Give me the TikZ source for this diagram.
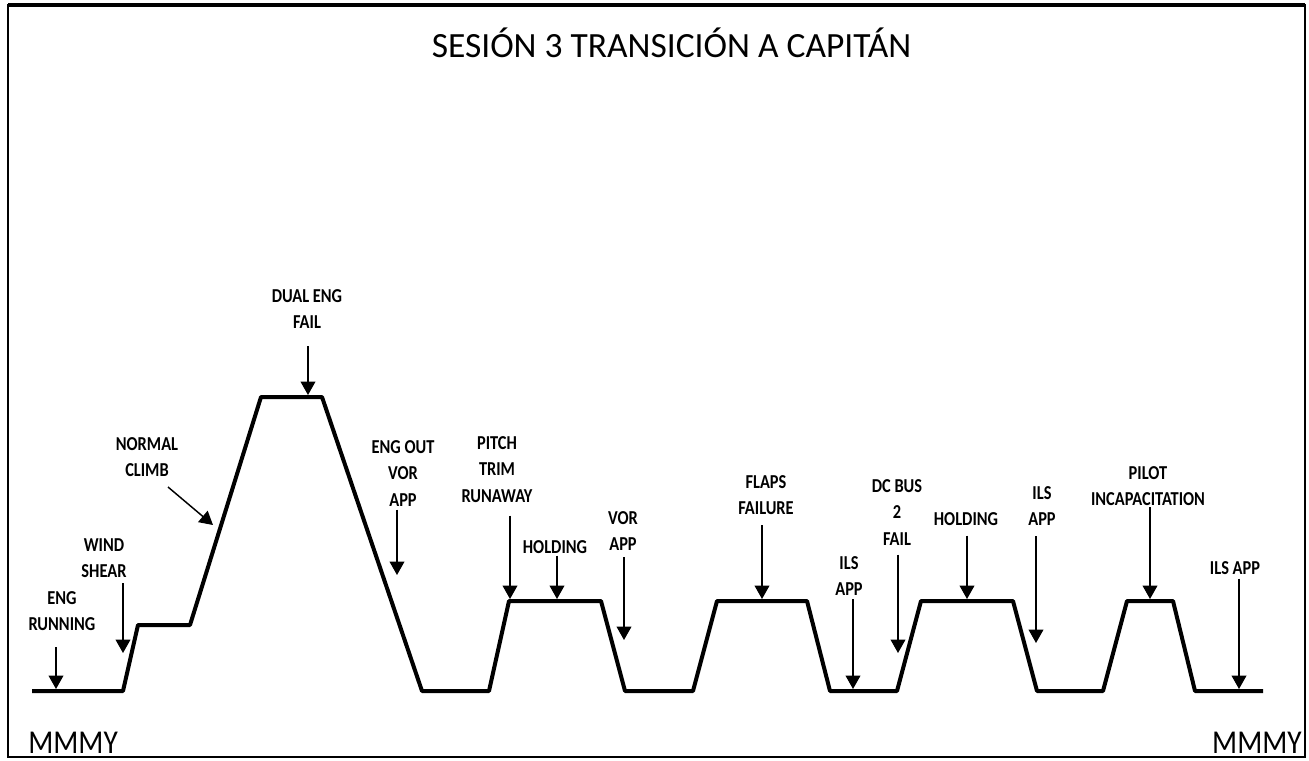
\documentclass[tikz,border=0pt]{standalone}
\usepackage{fontspec}
\setmainfont{Carlito}
\newfontfamily\lblfont[FakeStretch=0.83]{Carlito}
\newfontfamily\stnfont[FakeStretch=0.88]{Carlito}
\usetikzlibrary{arrows.meta}

\begin{document}
\begin{tikzpicture}[
  x=0.75pt,y=-0.75pt,
  every node/.style={inner sep=0pt},
  frame/.style={draw=black,line width=2pt},
  profile/.style={draw=black,line width=3pt,line join=round},
  event/.style={font=\lblfont\bfseries\fontsize{14.8}{19.9}\selectfont,align=center,anchor=north},
  station/.style={font=\stnfont\fontsize{25}{30}\selectfont},
  arrow/.style={-{Triangle[length=10pt,width=11pt]},line width=1.1pt,draw=black}
]
\useasboundingbox (0,0) rectangle (1309,760);
% frame
\draw[frame] (8,5) rectangle (1305,757);
\draw[line width=3.4pt] (8,5) -- (1305,5);

\node[font=\fontsize{26.6}{32}\selectfont,anchor=base] (title) at (671.5,57) {SESIÓN 3 TRANSICIÓN A CAPITÁN};
\node[station,anchor=base west] (mmmyl) at (28,753.5) {MMMY};
\node[station,anchor=base east] (mmmyr) at (1302,753.5) {MMMY};

% flight profile
\draw[profile] (32,691) -- (123,691) -- (138,625) -- (190,625) -- (261,397) -- (322,397)
  -- (422,691) -- (489,691) -- (509,601) -- (601,601) -- (625,691) -- (693,691)
  -- (717,601) -- (807,601) -- (830,691) -- (897,691) -- (921,601) -- (1013,601)
  -- (1037,691) -- (1103,691) -- (1127,601) -- (1173,601) -- (1195,691) -- (1263,691);

% event labels
\node[event] (running) at (62,591) {ENG\\RUNNING};
\node[event] (shear) at (104,538) {WIND\\SHEAR};
\node[event] (climb) at (147,437) {NORMAL\\CLIMB};
\node[event] (dualeng) at (307,289) {DUAL ENG\\FAIL};
\node[event] (engout) at (403,440) {ENG OUT\\VOR\\APP};
\node[event] (pitch) at (497,436) {PITCH\\TRIM\\RUNAWAY};
\node[event] (hold1) at (555,540) {HOLDING};
\node[event] (vorapp) at (623,511) {VOR\\APP};
\node[event] (flaps) at (766,475) {FLAPS\\FAILURE};
\node[event] (ils1) at (849,556) {ILS\\APP};
\node[event] (dcbus) at (897,479) {DC BUS\\2\\FAIL};
\node[event] (hold2) at (966,512) {HOLDING};
\node[event] (ils2) at (1042,486) {ILS\\APP};
\node[event] (pilot) at (1148,466) {PILOT\\INCAPACITATION};
\node[event] (ils3) at (1235,561) {ILS APP};

% arrow tips
\coordinate (tip-running) at (56,689);
\coordinate (tip-shear) at (123,653);
\coordinate (tail-climb) at (168,487);
\coordinate (tip-climb) at (213,525);
\coordinate (tip-dualeng) at (308,395);
\coordinate (tip-engout) at (397,575);
\coordinate (tip-pitch) at (510,599);
\coordinate (tip-hold1) at (557,599);
\coordinate (tip-vorapp) at (624,640);
\coordinate (tip-flaps) at (762,599);
\coordinate (tip-ils1) at (853,689);
\coordinate (tip-dcbus) at (898,653);
\coordinate (tip-hold2) at (967,599);
\coordinate (tip-ils2) at (1036,643);
\coordinate (tip-pilot) at (1150,599);
\coordinate (tip-ils3) at (1239,689);

\draw[arrow,shorten <=12pt] (running.south -| tip-running) -- (tip-running);
\draw[arrow,shorten <=3.75pt] (shear.south -| tip-shear) -- (tip-shear);
\draw[arrow] (tail-climb) -- (tip-climb);
\draw[arrow,shorten <=12.75pt] (dualeng.south -| tip-dualeng) -- (tip-dualeng);
\draw[arrow,shorten <=2.25pt] (engout.south -| tip-engout) -- (tip-engout);
\draw[arrow,shorten <=9.75pt] (pitch.south -| tip-pitch) -- (tip-pitch);
\draw[arrow,shorten <=1.5pt] (hold1.south -| tip-hold1) -- (tip-hold1);
\draw[arrow,shorten <=4.5pt] (vorapp.south -| tip-vorapp) -- (tip-vorapp);
\draw[arrow,shorten <=7.5pt] (flaps.south -| tip-flaps) -- (tip-flaps);
\draw[arrow,shorten <=2.25pt] (ils1.south -| tip-ils1) -- (tip-ils1);
\draw[arrow,shorten <=6.75pt] (dcbus.south -| tip-dcbus) -- (tip-dcbus);
\draw[arrow,shorten <=7.5pt] (hold2.south -| tip-hold2) -- (tip-hold2);
\draw[arrow,shorten <=7.5pt] (ils2.south -| tip-ils2) -- (tip-ils2);
\draw[arrow,shorten <=0.75pt] (pilot.south -| tip-pilot) -- (tip-pilot);
\draw[arrow,shorten <=3pt] (ils3.south -| tip-ils3) -- (tip-ils3);
\end{tikzpicture}
\end{document}
